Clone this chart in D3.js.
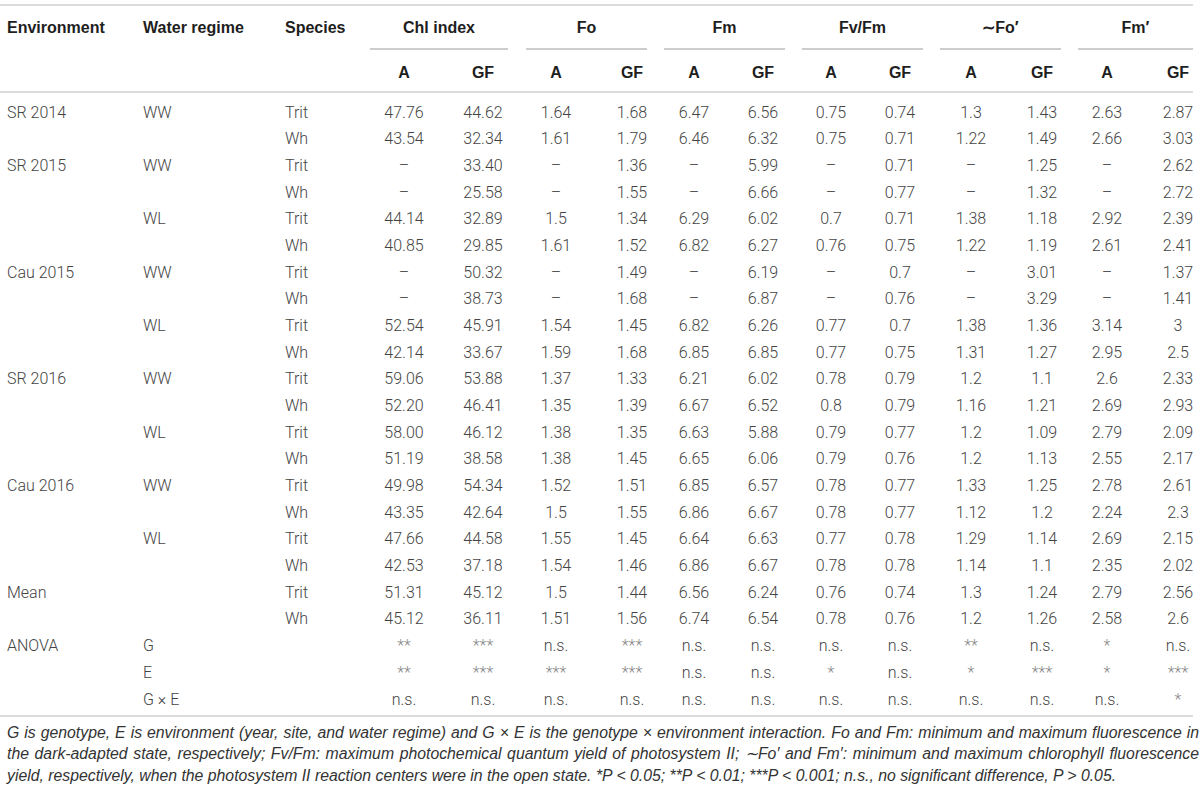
<!DOCTYPE html>
<html>
<head>
<meta charset="utf-8">
<script src="https://cdn.jsdelivr.net/npm/d3@7"></script>
<style>
  body { margin: 0; background: #fff; }
  svg { display: block; }
</style>
</head>
<body>
<div id="chart"></div>
<script>
// ---- table data ------------------------------------------------------------
const groups = ["Chl index", "Fo", "Fm", "Fv/Fm", "\u223CFo\u2032", "Fm\u2032"];
const subCols = ["A", "GF"];

const rowEnv = ["SR 2014", "", "SR 2015", "", "", "", "Cau 2015", "", "", "",
    "SR 2016", "", "", "", "Cau 2016", "", "", "", "Mean", "", "ANOVA", "", ""];
const rowWater = ["WW", "", "WW", "", "WL", "", "WW", "", "WL", "", "WW", "", "WL", "",
    "WW", "", "WL", "", "", "", "G", "E", "G \u00D7 E"];
const rowSpecies = ["Trit", "Wh", "Trit", "Wh", "Trit", "Wh", "Trit", "Wh", "Trit", "Wh",
    "Trit", "Wh", "Trit", "Wh", "Trit", "Wh", "Trit", "Wh", "Trit", "Wh", "", "", ""];

const D = "\u2013";
const chlA  = ["47.76", "43.54", D, D, "44.14", "40.85", D, D, "52.54", "42.14", "59.06", "52.20",
    "58.00", "51.19", "49.98", "43.35", "47.66", "42.53", "51.31", "45.12", "**", "**", "n.s."];
const chlGF = ["44.62", "32.34", "33.40", "25.58", "32.89", "29.85", "50.32", "38.73", "45.91", "33.67",
    "53.88", "46.41", "46.12", "38.58", "54.34", "42.64", "44.58", "37.18", "45.12", "36.11", "***", "***", "n.s."];
const foA   = ["1.64", "1.61", D, D, "1.5", "1.61", D, D, "1.54", "1.59", "1.37", "1.35",
    "1.38", "1.38", "1.52", "1.5", "1.55", "1.54", "1.5", "1.51", "n.s.", "***", "n.s."];
const foGF  = ["1.68", "1.79", "1.36", "1.55", "1.34", "1.52", "1.49", "1.68", "1.45", "1.68",
    "1.33", "1.39", "1.35", "1.45", "1.51", "1.55", "1.45", "1.46", "1.44", "1.56", "***", "***", "n.s."];
const fmA   = ["6.47", "6.46", D, D, "6.29", "6.82", D, D, "6.82", "6.85", "6.21", "6.67",
    "6.63", "6.65", "6.85", "6.86", "6.64", "6.86", "6.56", "6.74", "n.s.", "n.s.", "n.s."];
const fmGF  = ["6.56", "6.32", "5.99", "6.66", "6.02", "6.27", "6.19", "6.87", "6.26", "6.85",
    "6.02", "6.52", "5.88", "6.06", "6.57", "6.67", "6.63", "6.67", "6.24", "6.54", "n.s.", "n.s.", "n.s."];
const fvfmA = ["0.75", "0.75", D, D, "0.7", "0.76", D, D, "0.77", "0.77", "0.78", "0.8",
    "0.79", "0.79", "0.78", "0.78", "0.77", "0.78", "0.76", "0.78", "n.s.", "*", "n.s."];
const fvfmGF = ["0.74", "0.71", "0.71", "0.77", "0.71", "0.75", "0.7", "0.76", "0.7", "0.75",
    "0.79", "0.79", "0.77", "0.76", "0.77", "0.77", "0.78", "0.78", "0.74", "0.76", "n.s.", "n.s.", "n.s."];
const fopA  = ["1.3", "1.22", D, D, "1.38", "1.22", D, D, "1.38", "1.31", "1.2", "1.16",
    "1.2", "1.2", "1.33", "1.12", "1.29", "1.14", "1.3", "1.2", "**", "*", "n.s."];
const fopGF = ["1.43", "1.49", "1.25", "1.32", "1.18", "1.19", "3.01", "3.29", "1.36", "1.27",
    "1.1", "1.21", "1.09", "1.13", "1.25", "1.2", "1.14", "1.1", "1.24", "1.26", "n.s.", "***", "n.s."];
const fmpA  = ["2.63", "2.66", D, D, "2.92", "2.61", D, D, "3.14", "2.95", "2.6", "2.69",
    "2.79", "2.55", "2.78", "2.24", "2.69", "2.35", "2.79", "2.58", "*", "*", "n.s."];
const fmpGF = ["2.87", "3.03", "2.62", "2.72", "2.39", "2.41", "1.37", "1.41", "3", "2.5",
    "2.33", "2.93", "2.09", "2.17", "2.61", "2.3", "2.15", "2.02", "2.56", "2.6", "n.s.", "***", "*"];

const footnote = [
    "G is genotype, E is environment (year, site, and water regime) and G \u00D7 E is the genotype \u00D7 environment interaction. Fo and Fm: minimum and maximum fluorescence in",
    "the dark-adapted state, respectively; Fv/Fm: maximum photochemical quantum yield of photosystem II; \u223CFo\u2032 and Fm\u2032: minimum and maximum chlorophyll fluorescence",
    "yield, respectively, when the photosystem II reaction centers were in the open state. *P < 0.05; **P < 0.01; ***P < 0.001; n.s., no significant difference, P > 0.05."
];

// value columns in display order (group x sub column)
const valueCols = [chlA, chlGF, foA, foGF, fmA, fmGF, fvfmA, fvfmGF, fopA, fopGF, fmpA, fmpGF];

// ---- layout ----------------------------------------------------------------
const W = 1200, H = 792;
const BODY_FONT = "Roboto, 'Liberation Sans', Arial, sans-serif";
const HEAD_FONT = "'Liberation Sans', Arial, sans-serif";

const colKeys = d3.range(valueCols.length);
const x = d3.scaleOrdinal()
    .domain(colKeys)
    .range([404, 483, 556, 632, 694, 763, 831, 900, 971, 1042, 1107, 1178]);
const groupSpan = d3.scaleOrdinal()
    .domain(groups)
    .range([[370, 508], [526, 647], [664, 785], [802, 923], [940, 1061], [1078, 1193]]);
const leftX = d3.scaleOrdinal()
    .domain(["env", "water", "species"])
    .range([7, 143, 285]);
const y = d3.scaleLinear().domain([0, rowEnv.length - 1]).range([112, 699]);

const svg = d3.select("#chart").append("svg")
    .attr("width", W).attr("height", H)
    .attr("viewBox", `0 0 ${W} ${H}`);

// rules
const rule = (y0, x0, x1, color, w) => svg.append("line")
    .attr("x1", x0).attr("x2", x1).attr("y1", y0).attr("y2", y0)
    .attr("stroke", color).attr("stroke-width", w);
rule(5, 0, 1193, "#dcdcdc", 2);
rule(92, 0, 1193, "#dcdcdc", 2);
rule(716, 0, 1193, "#dcdcdc", 2);

// header row
const head = svg.append("g")
    .style("font-family", HEAD_FONT).style("font-weight", "bold")
    .style("font-size", "16px").attr("fill", "#1e1e1e");

head.selectAll("text.lh")
    .data([["env", "Environment"], ["water", "Water regime"], ["species", "Species"]])
    .join("text").attr("class", "lh")
    .attr("x", d => leftX(d[0])).attr("y", 27)
    .attr("dominant-baseline", "central")
    .text(d => d[1]);

head.selectAll("text.gh")
    .data(groups)
    .join("text").attr("class", "gh")
    .attr("x", g => d3.mean(groupSpan(g))).attr("y", 27)
    .attr("text-anchor", "middle").attr("dominant-baseline", "central")
    .text(g => g);

svg.selectAll("line.gl")
    .data(groups)
    .join("line").attr("class", "gl")
    .attr("x1", g => groupSpan(g)[0]).attr("x2", g => groupSpan(g)[1])
    .attr("y1", 49).attr("y2", 49)
    .attr("stroke", "#9a9a9a").attr("stroke-width", 1);

head.selectAll("text.sh")
    .data(colKeys)
    .join("text").attr("class", "sh")
    .attr("x", k => x(k)).attr("y", 72)
    .attr("text-anchor", "middle").attr("dominant-baseline", "central")
    .text(k => subCols[k % 2]);

// body
const body = svg.append("g")
    .style("font-family", BODY_FONT).style("font-weight", 300)
    .style("font-size", "16px").attr("fill", "#444");

const leftCells = [];
rowEnv.forEach((v, i) => {
    leftCells.push({ col: "env", row: i, v });
    leftCells.push({ col: "water", row: i, v: rowWater[i] });
    leftCells.push({ col: "species", row: i, v: rowSpecies[i] });
});
body.selectAll("text.lc")
    .data(leftCells.filter(d => d.v))
    .join("text").attr("class", "lc")
    .attr("x", d => leftX(d.col)).attr("y", d => y(d.row))
    .attr("dominant-baseline", "central")
    .text(d => d.v);

const cells = [];
valueCols.forEach((col, k) => col.forEach((v, i) => cells.push({ k, row: i, v })));
body.selectAll("text.vc")
    .data(cells)
    .join("text").attr("class", "vc")
    .attr("x", d => x(d.k)).attr("y", d => y(d.row))
    .attr("text-anchor", "middle").attr("dominant-baseline", "central")
    .attr("fill", d => d.v.startsWith("*") ? "#888" : null)
    .text(d => d.v);

// footnote, first two lines justified to the table width
const note = svg.append("g")
    .style("font-family", HEAD_FONT).style("font-style", "italic")
    .style("font-size", "15.8px").attr("fill", "#333");
note.selectAll("text")
    .data(footnote)
    .join("text")
    .attr("x", 7).attr("y", (d, i) => 732 + i * 21.5)
    .attr("dominant-baseline", "central")
    .text(d => d)
    .each(function (d, i) {
        if (i === footnote.length - 1) return;
        const gap = 1192 - this.getComputedTextLength();
        const spaces = d.split(" ").length - 1;
        if (gap > 0) d3.select(this).attr("word-spacing", gap / spaces);
        else d3.select(this).attr("textLength", 1185).attr("lengthAdjust", "spacing");
    });
</script>
</body>
</html>
